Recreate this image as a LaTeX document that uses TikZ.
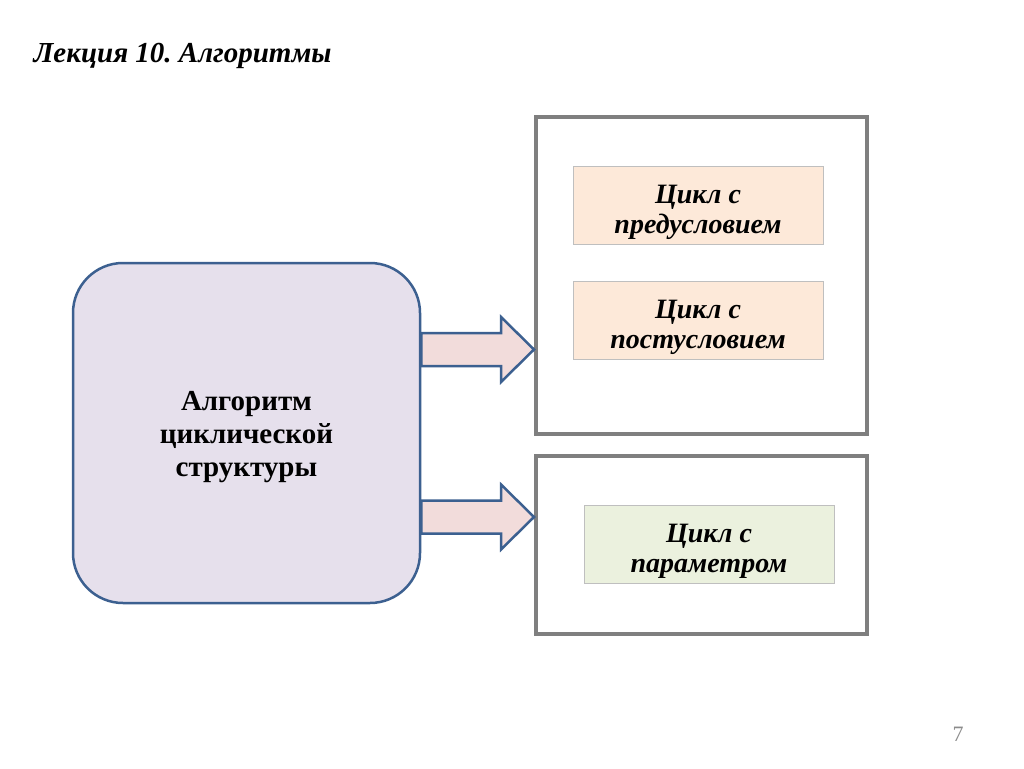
\documentclass[tikz,border=0pt]{standalone}
\usepackage{fontspec}
\setmainfont{Liberation Serif}
\usetikzlibrary{calc}
\frenchspacing
\definecolor{mainfill}{HTML}{E6E0EC}
\definecolor{mainline}{HTML}{3C6090}
\definecolor{arrowfill}{HTML}{F2DCDB}
\definecolor{framegray}{HTML}{7F7F7F}
\definecolor{peach}{HTML}{FDE9D9}
\definecolor{lightgreen}{HTML}{EBF1DE}
\definecolor{thinborder}{HTML}{BFBFBF}
\definecolor{pagenum}{HTML}{8C8C8C}
\tikzset{
  mainbox/.style={draw=mainline, line width=2.5pt, fill=mainfill, rounded corners=50pt,
    minimum width=347pt, minimum height=340pt, inner sep=0pt},
  maintext/.style={align=center, inner sep=0pt,
    font=\fontsize{29}{33}\selectfont\bfseries},
  framebox/.style={draw=framegray, line width=4pt, minimum width=331pt, inner sep=0pt},
  itembox/.style={draw=thinborder, line width=0.8pt, minimum width=250pt, minimum height=78pt,
    inner sep=0pt},
  itemtext/.style={align=center, inner sep=0pt, font=\fontsize{28}{30}\selectfont\bfseries\itshape},
  blockarrow/.style={draw=mainline, line width=2.5pt, fill=arrowfill, line join=miter},
}
\begin{document}
\begin{tikzpicture}[x=1pt,y=-1pt]
\useasboundingbox (0,0) rectangle (1024,768);
\fill[white] (0,0) rectangle (1024,768);

\node[anchor=base west, font=\fontsize{29}{32}\selectfont\bfseries\itshape] (title) at (30,63) {Лекция 10. Алгоритмы};

\node[framebox, minimum height=317pt] (frameA) at (701.5,275.5) {};
\node[framebox, minimum height=178pt] (frameB) at (701.5,545) {};

\node[itembox, fill=peach] (pre) at (698,205) {};
\node[itemtext] (preText) at ($(pre.center)+(0,7)$) {Цикл с\\предусловием};
\node[itembox, fill=peach] (post) at (698,320) {};
\node[itemtext] (postText) at ($(post.center)+(0,7)$) {Цикл с\\постусловием};
\node[itembox, fill=lightgreen] (param) at (709,544) {};
\node[itemtext] (paramText) at ($(param.center)+(0,7)$) {Цикл с\\параметром};

\node[mainbox] (main) at (246.5,433) {};
\node[maintext] (mainText) at ($(main.center)+(0,4)$) {Алгоритм\\циклической\\структуры};

% block arrows from main box to the frames
\coordinate (s1) at (main.east |- 0,349.5);
\coordinate (t1) at (frameA.west |- 0,349.5);
\coordinate (s2) at (main.east |- 0,517);
\coordinate (t2) at (frameB.west |- 0,517);
\foreach \s/\t in {s1/t1, s2/t2}{
  \draw[blockarrow] ($(\s)+(0,-16.5)$) -- ($(\t)+(-33,-16.5)$) -- ($(\t)+(-33,-32.5)$)
    -- (\t) -- ($(\t)+(-33,32.5)$) -- ($(\t)+(-33,16.5)$) -- ($(\s)+(0,16.5)$) -- cycle;
}

\node[anchor=base, text=pagenum, font=\fontsize{22}{26}\selectfont] (page) at (958,741) {7};
\end{tikzpicture}
\end{document}
